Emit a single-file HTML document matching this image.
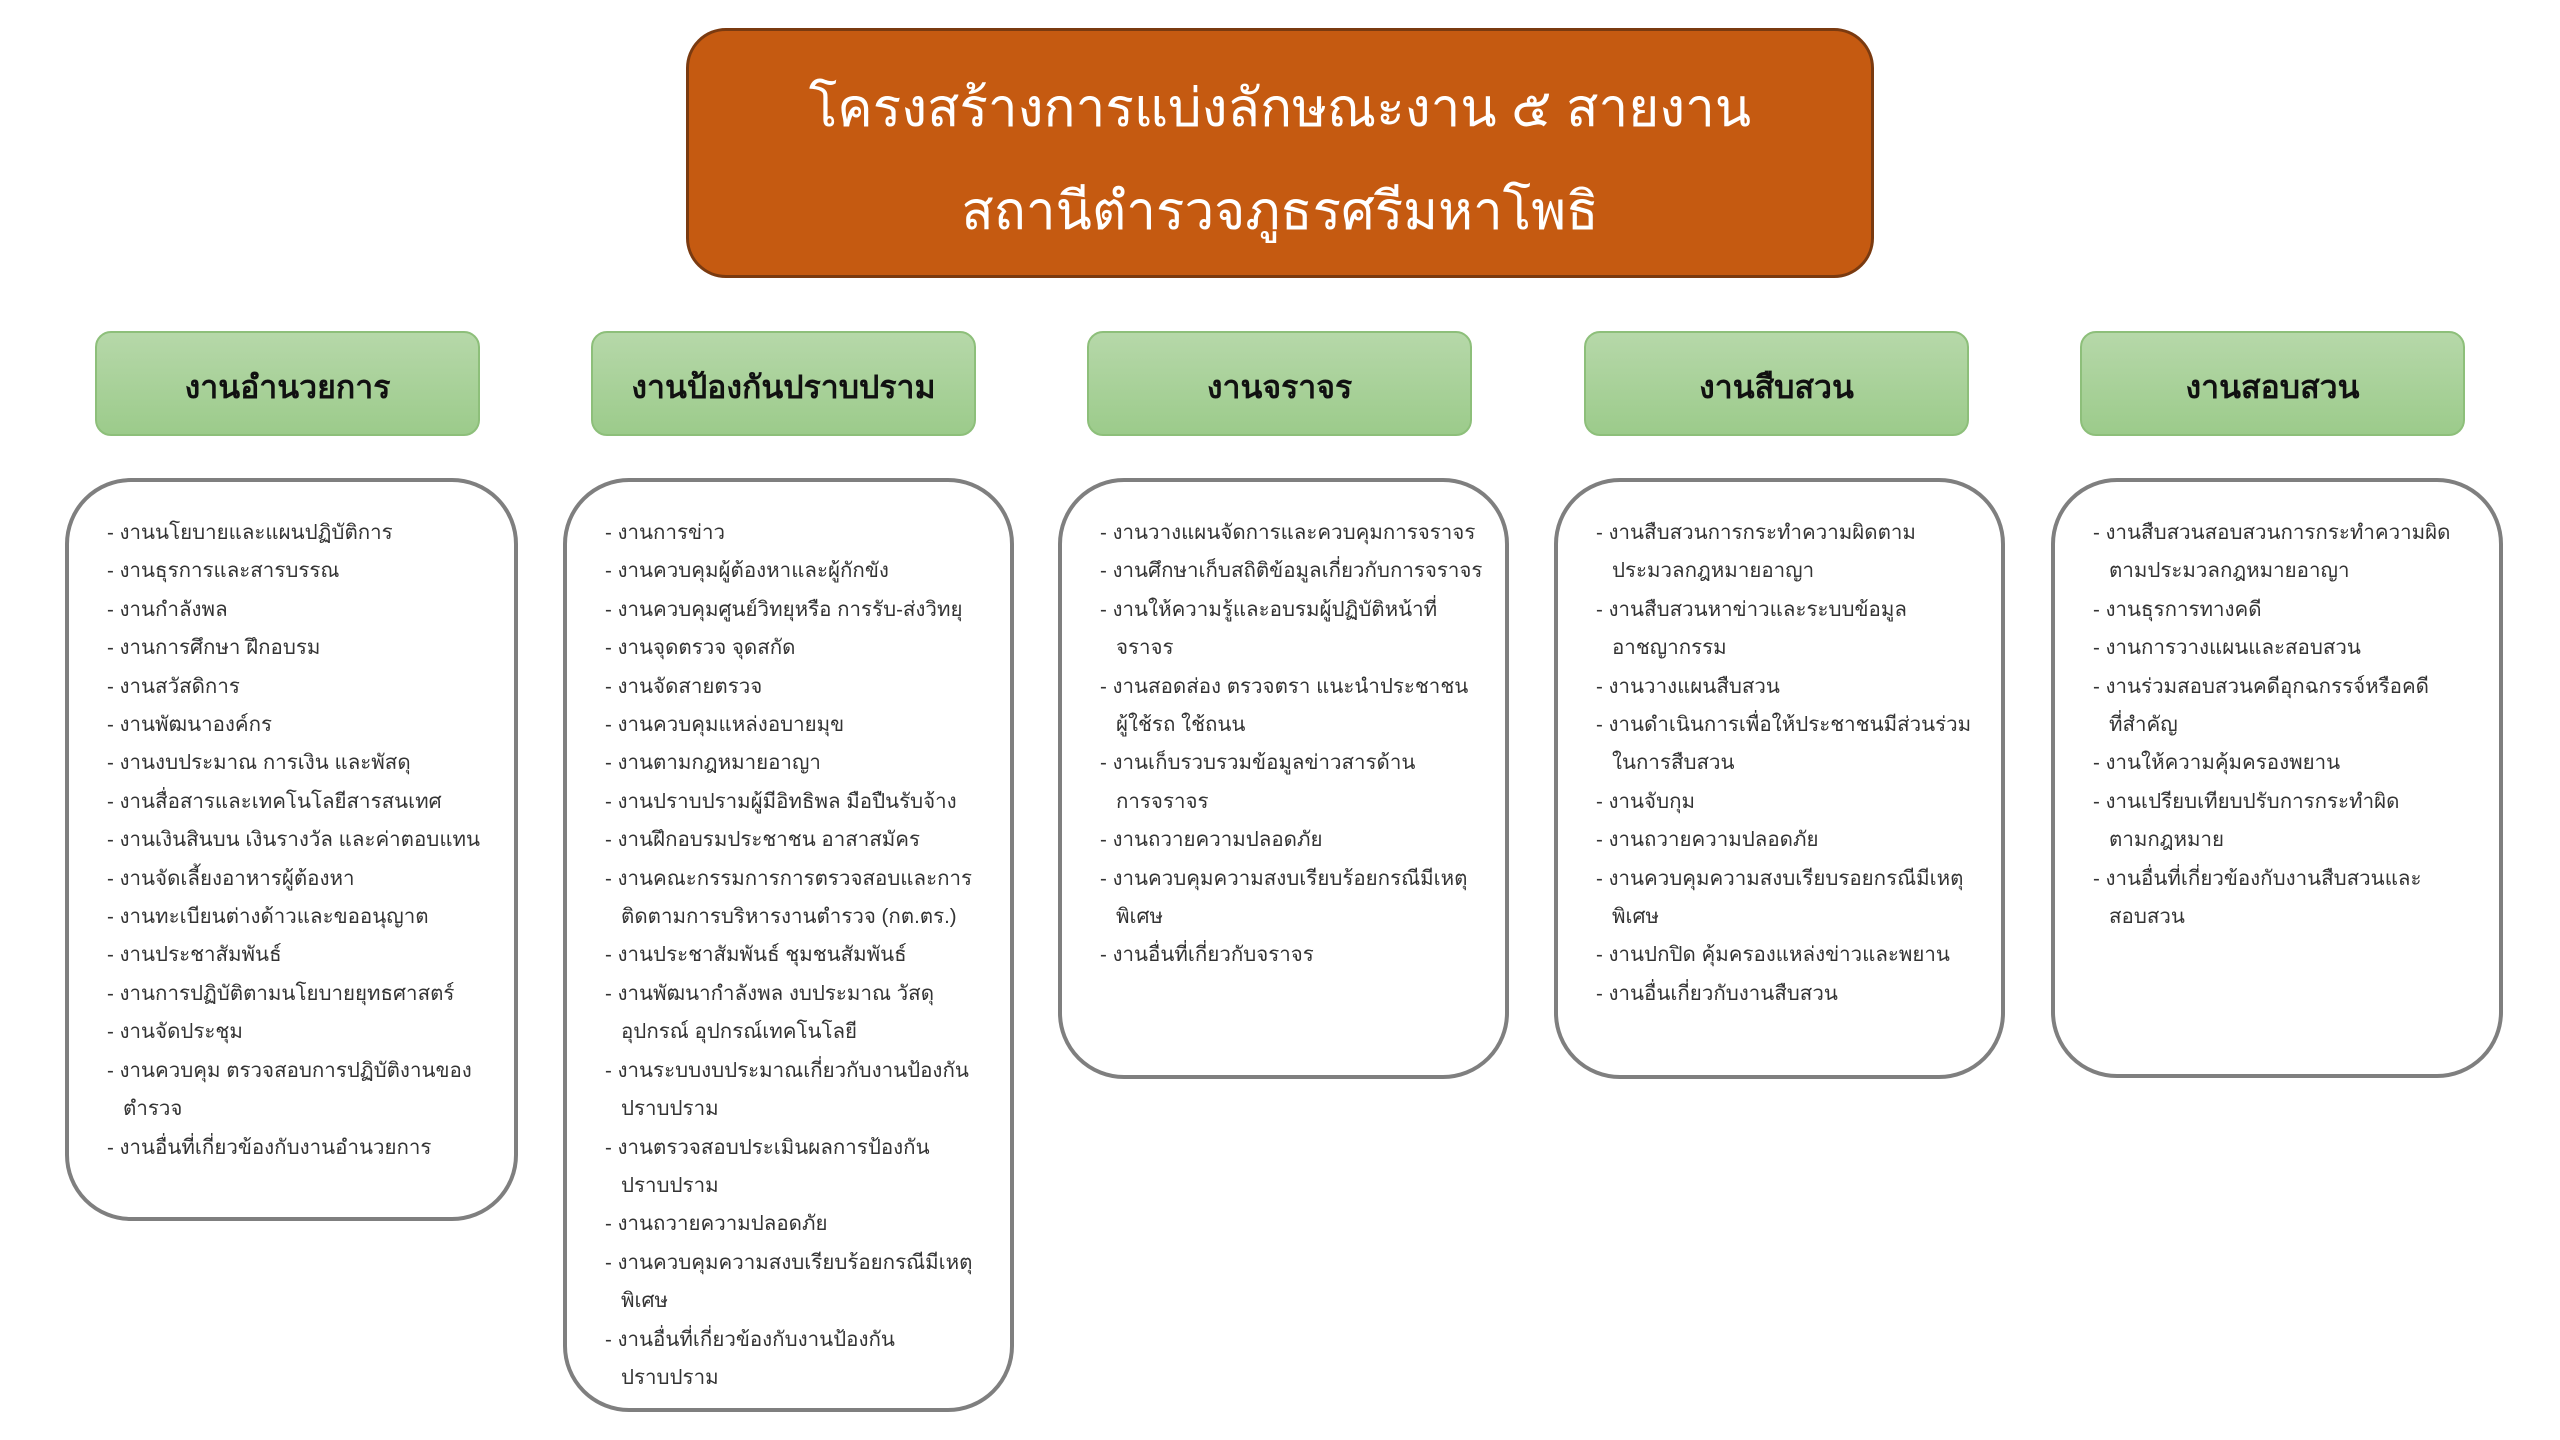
<!DOCTYPE html>
<html><head><meta charset="utf-8"><style>
*{margin:0;padding:0;box-sizing:border-box}
body{width:2560px;height:1440px;background:#fff;position:relative;overflow:hidden;font-family:"Liberation Sans","DejaVu Sans",sans-serif}
.title{position:absolute;left:686px;top:28px;width:1188px;height:250px;background:#c55a11;border:3px solid #7a3a10;border-radius:40px;color:#fff;text-align:center;font-size:53px;line-height:103px;padding-top:26px}
.hd{position:absolute;top:331px;width:385px;height:105px;border:2px solid #8dbf7a;border-radius:16px;background:linear-gradient(#b6d8a9,#9ccb8b);text-align:center;line-height:109px;font-size:32px;font-weight:bold;color:#111}
.bx{position:absolute;top:478px;border:4px solid #7f7f7f;border-radius:66px;padding:32px 0 0 38px;font-size:20.5px;color:#333;line-height:38.4px}
.bx div{white-space:nowrap;padding-left:16px;text-indent:-16px}
</style></head><body>
<div class="title">โครงสร้างการแบ่งลักษณะงาน ๕ สายงาน<br>สถานีตำรวจภูธรศรีมหาโพธิ</div>
<div class="hd" style="left:95px">งานอำนวยการ</div>
<div class="hd" style="left:591px">งานป้องกันปราบปราม</div>
<div class="hd" style="left:1087px">งานจราจร</div>
<div class="hd" style="left:1584px">งานสืบสวน</div>
<div class="hd" style="left:2080px">งานสอบสวน</div>

<div class="bx" style="left:65px;width:453px;height:743px">
<div>- งานนโยบายและแผนปฏิบัติการ</div>
<div>- งานธุรการและสารบรรณ</div>
<div>- งานกำลังพล</div>
<div>- งานการศึกษา ฝึกอบรม</div>
<div>- งานสวัสดิการ</div>
<div>- งานพัฒนาองค์กร</div>
<div>- งานงบประมาณ การเงิน และพัสดุ</div>
<div>- งานสื่อสารและเทคโนโลยีสารสนเทศ</div>
<div>- งานเงินสินบน เงินรางวัล และค่าตอบแทน</div>
<div>- งานจัดเลี้ยงอาหารผู้ต้องหา</div>
<div>- งานทะเบียนต่างด้าวและขออนุญาต</div>
<div>- งานประชาสัมพันธ์</div>
<div>- งานการปฏิบัติตามนโยบายยุทธศาสตร์</div>
<div>- งานจัดประชุม</div>
<div>- งานควบคุม ตรวจสอบการปฏิบัติงานของ<br>ตำรวจ</div>
<div>- งานอื่นที่เกี่ยวข้องกับงานอำนวยการ</div>
</div>

<div class="bx" style="left:563px;width:451px;height:934px">
<div>- งานการข่าว</div>
<div>- งานควบคุมผู้ต้องหาและผู้กักขัง</div>
<div>- งานควบคุมศูนย์วิทยุหรือ การรับ-ส่งวิทยุ</div>
<div>- งานจุดตรวจ จุดสกัด</div>
<div>- งานจัดสายตรวจ</div>
<div>- งานควบคุมแหล่งอบายมุข</div>
<div>- งานตามกฎหมายอาญา</div>
<div>- งานปราบปรามผู้มีอิทธิพล มือปืนรับจ้าง</div>
<div>- งานฝึกอบรมประชาชน อาสาสมัคร</div>
<div>- งานคณะกรรมการการตรวจสอบและการ<br>ติดตามการบริหารงานตำรวจ (กต.ตร.)</div>
<div>- งานประชาสัมพันธ์ ชุมชนสัมพันธ์</div>
<div>- งานพัฒนากำลังพล งบประมาณ วัสดุ<br>อุปกรณ์ อุปกรณ์เทคโนโลยี</div>
<div>- งานระบบงบประมาณเกี่ยวกับงานป้องกัน<br>ปราบปราม</div>
<div>- งานตรวจสอบประเมินผลการป้องกัน<br>ปราบปราม</div>
<div>- งานถวายความปลอดภัย</div>
<div>- งานควบคุมความสงบเรียบร้อยกรณีมีเหตุ<br>พิเศษ</div>
<div>- งานอื่นที่เกี่ยวข้องกับงานป้องกัน<br>ปราบปราม</div>
</div>

<div class="bx" style="left:1058px;width:451px;height:601px">
<div>- งานวางแผนจัดการและควบคุมการจราจร</div>
<div>- งานศึกษาเก็บสถิติข้อมูลเกี่ยวกับการจราจร</div>
<div>- งานให้ความรู้และอบรมผู้ปฏิบัติหน้าที่<br>จราจร</div>
<div>- งานสอดส่อง ตรวจตรา แนะนำประชาชน<br>ผู้ใช้รถ ใช้ถนน</div>
<div>- งานเก็บรวบรวมข้อมูลข่าวสารด้าน<br>การจราจร</div>
<div>- งานถวายความปลอดภัย</div>
<div>- งานควบคุมความสงบเรียบร้อยกรณีมีเหตุ<br>พิเศษ</div>
<div>- งานอื่นที่เกี่ยวกับจราจร</div>
</div>

<div class="bx" style="left:1554px;width:451px;height:601px">
<div>- งานสืบสวนการกระทำความผิดตาม<br>ประมวลกฎหมายอาญา</div>
<div>- งานสืบสวนหาข่าวและระบบข้อมูล<br>อาชญากรรม</div>
<div>- งานวางแผนสืบสวน</div>
<div>- งานดำเนินการเพื่อให้ประชาชนมีส่วนร่วม<br>ในการสืบสวน</div>
<div>- งานจับกุม</div>
<div>- งานถวายความปลอดภัย</div>
<div>- งานควบคุมความสงบเรียบรอยกรณีมีเหตุ<br>พิเศษ</div>
<div>- งานปกปิด คุ้มครองแหล่งข่าวและพยาน</div>
<div>- งานอื่นเกี่ยวกับงานสืบสวน</div>
</div>

<div class="bx" style="left:2051px;width:452px;height:600px">
<div>- งานสืบสวนสอบสวนการกระทำความผิด<br>ตามประมวลกฎหมายอาญา</div>
<div>- งานธุรการทางคดี</div>
<div>- งานการวางแผนและสอบสวน</div>
<div>- งานร่วมสอบสวนคดีอุกฉกรรจ์หรือคดี<br>ที่สำคัญ</div>
<div>- งานให้ความคุ้มครองพยาน</div>
<div>- งานเปรียบเทียบปรับการกระทำผิด<br>ตามกฎหมาย</div>
<div>- งานอื่นที่เกี่ยวข้องกับงานสืบสวนและ<br>สอบสวน</div>
</div>
</body></html>
